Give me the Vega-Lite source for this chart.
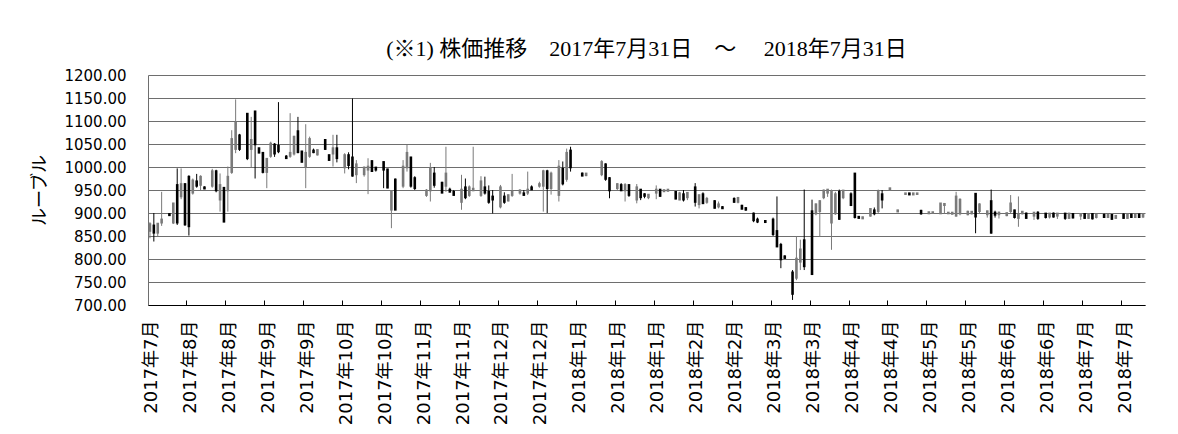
{
  "$schema": "https://vega.github.io/schema/vega-lite/v6.json",
  "autosize": {"type": "none"},
  "padding": {"left": 148, "top": 75, "right": 33, "bottom": 129},
  "width": 997,
  "height": 230,
  "background": "white",
  "title": {"text": "(※1) 株価推移　2017年7月31日　～　 2018年7月31日", "font": "Liberation Serif, Noto Sans CJK JP", "fontSize": 22, "fontWeight": "normal", "color": "#000000", "anchor": "middle", "offset": 7},
  "config": {
    "view": {"stroke": null},
    "axis": {"labelColor": "#000000", "titleColor": "#000000"},
    "axisY": {"grid": true, "gridColor": "#6e6e6e", "gridWidth": 1, "domain": true, "domainColor": "#6e6e6e", "ticks": false, "labelPadding": 22, "labelFont": "DejaVu Sans", "labelFontSize": 15, "titleFont": "Noto Sans CJK JP", "titleFontSize": 18, "titleFontWeight": "normal", "titlePadding": 14}
  },
  "data": {"values": [
{"d":"2017-07-31","o":862,"h":880,"l":845,"c":875},
{"d":"2017-08-01","o":872,"h":900,"l":838,"c":858},
{"d":"2017-08-02","o":858,"h":878,"l":850,"c":876},
{"d":"2017-08-03","o":880,"h":946,"l":872,"c":885},
{"d":"2017-08-04"},
{"d":"2017-08-07","o":897,"h":899,"l":895,"c":896},
{"d":"2017-08-08","o":880,"h":922,"l":876,"c":920},
{"d":"2017-08-09","o":960,"h":997,"l":874,"c":880},
{"d":"2017-08-10","o":937,"h":997,"l":930,"c":962},
{"d":"2017-08-11","o":962,"h":965,"l":872,"c":876},
{"d":"2017-08-14","o":978,"h":982,"l":851,"c":872},
{"d":"2017-08-15","o":945,"h":975,"l":940,"c":970},
{"d":"2017-08-16","o":968,"h":985,"l":955,"c":960},
{"d":"2017-08-17","o":962,"h":982,"l":950,"c":978},
{"d":"2017-08-18","o":955,"h":958,"l":952,"c":954},
{"d":"2017-08-21"},
{"d":"2017-08-22","o":960,"h":996,"l":955,"c":990},
{"d":"2017-08-23","o":990,"h":994,"l":945,"c":950},
{"d":"2017-08-24","o":930,"h":986,"l":903,"c":960},
{"d":"2017-08-25","o":954,"h":956,"l":880,"c":882},
{"d":"2017-08-28","o":950,"h":1001,"l":903,"c":978},
{"d":"2017-08-29","o":990,"h":1080,"l":985,"c":1060},
{"d":"2017-08-30","o":1040,"h":1147,"l":1030,"c":1095},
{"d":"2017-08-31","o":1068,"h":1072,"l":1035,"c":1040},
{"d":"2017-09-01"},
{"d":"2017-09-04","o":1115,"h":1117,"l":1015,"c":1020},
{"d":"2017-09-05","o":1040,"h":1109,"l":1000,"c":1058},
{"d":"2017-09-06","o":1120,"h":1122,"l":975,"c":1050},
{"d":"2017-09-07","o":1040,"h":1042,"l":1030,"c":1032},
{"d":"2017-09-08","o":1030,"h":1032,"l":986,"c":990},
{"d":"2017-09-11","o":990,"h":1019,"l":954,"c":1017},
{"d":"2017-09-12","o":1025,"h":1055,"l":1020,"c":1050},
{"d":"2017-09-13","o":1048,"h":1052,"l":1022,"c":1030},
{"d":"2017-09-14","o":1045,"h":1141,"l":1030,"c":1035},
{"d":"2017-09-15"},
{"d":"2017-09-18","o":1022,"h":1026,"l":1018,"c":1020},
{"d":"2017-09-19","o":1025,"h":1117,"l":1020,"c":1030},
{"d":"2017-09-20","o":1030,"h":1068,"l":1025,"c":1065},
{"d":"2017-09-21","o":1077,"h":1109,"l":1030,"c":1033},
{"d":"2017-09-22","o":1033,"h":1035,"l":1010,"c":1012},
{"d":"2017-09-25","o":1002,"h":1093,"l":954,"c":1030},
{"d":"2017-09-26","o":1025,"h":1066,"l":1020,"c":1060},
{"d":"2017-09-27","o":1035,"h":1040,"l":1030,"c":1033},
{"d":"2017-09-28","o":1028,"h":1038,"l":1025,"c":1036},
{"d":"2017-09-29"},
{"d":"2017-10-02","o":1058,"h":1060,"l":1037,"c":1040},
{"d":"2017-10-03","o":1025,"h":1027,"l":1014,"c":1016},
{"d":"2017-10-04","o":1030,"h":1070,"l":1001,"c":1040},
{"d":"2017-10-05","o":1040,"h":1070,"l":1010,"c":1020},
{"d":"2017-10-06"},
{"d":"2017-10-09","o":1000,"h":1030,"l":986,"c":1025},
{"d":"2017-10-10","o":1025,"h":1032,"l":995,"c":1005},
{"d":"2017-10-11","o":1020,"h":1149,"l":979,"c":982},
{"d":"2017-10-12","o":985,"h":1015,"l":965,"c":1005},
{"d":"2017-10-13"},
{"d":"2017-10-16","o":985,"h":1001,"l":979,"c":998},
{"d":"2017-10-17","o":995,"h":1019,"l":941,"c":1000},
{"d":"2017-10-18","o":1012,"h":1015,"l":990,"c":992},
{"d":"2017-10-19","o":998,"h":1000,"l":990,"c":995},
{"d":"2017-10-20"},
{"d":"2017-10-23","o":1010,"h":1012,"l":954,"c":995},
{"d":"2017-10-24","o":994,"h":996,"l":954,"c":956},
{"d":"2017-10-25","o":908,"h":950,"l":867,"c":947},
{"d":"2017-10-26","o":972,"h":975,"l":907,"c":908},
{"d":"2017-10-27"},
{"d":"2017-10-30","o":960,"h":1015,"l":954,"c":1000},
{"d":"2017-10-31","o":1000,"h":1048,"l":990,"c":1030},
{"d":"2017-11-01","o":1020,"h":1022,"l":955,"c":960},
{"d":"2017-11-02","o":975,"h":980,"l":950,"c":955},
{"d":"2017-11-03"},
{"d":"2017-11-07"},
{"d":"2017-11-08","o":940,"h":952,"l":935,"c":948},
{"d":"2017-11-09","o":950,"h":1009,"l":925,"c":995},
{"d":"2017-11-10","o":985,"h":1000,"l":955,"c":962},
{"d":"2017-11-13"},
{"d":"2017-11-14","o":965,"h":968,"l":943,"c":945},
{"d":"2017-11-15","o":960,"h":1044,"l":946,"c":985},
{"d":"2017-11-16","o":950,"h":955,"l":945,"c":947},
{"d":"2017-11-17","o":945,"h":950,"l":938,"c":940},
{"d":"2017-11-20"},
{"d":"2017-11-21","o":925,"h":983,"l":907,"c":950},
{"d":"2017-11-22","o":955,"h":975,"l":930,"c":935},
{"d":"2017-11-23","o":940,"h":960,"l":935,"c":955},
{"d":"2017-11-24","o":950,"h":1044,"l":948,"c":952},
{"d":"2017-11-27"},
{"d":"2017-11-28","o":940,"h":980,"l":935,"c":968},
{"d":"2017-11-29","o":955,"h":979,"l":940,"c":945},
{"d":"2017-11-30","o":945,"h":960,"l":920,"c":925},
{"d":"2017-12-01","o":935,"h":950,"l":899,"c":930},
{"d":"2017-12-04"},
{"d":"2017-12-05","o":915,"h":961,"l":910,"c":955},
{"d":"2017-12-06","o":935,"h":945,"l":920,"c":925},
{"d":"2017-12-07","o":928,"h":940,"l":925,"c":938},
{"d":"2017-12-08","o":940,"h":985,"l":935,"c":945},
{"d":"2017-12-11"},
{"d":"2017-12-12","o":945,"h":952,"l":940,"c":948},
{"d":"2017-12-13","o":942,"h":950,"l":938,"c":940},
{"d":"2017-12-14","o":945,"h":990,"l":939,"c":950},
{"d":"2017-12-15","o":955,"h":960,"l":950,"c":952},
{"d":"2017-12-18"},
{"d":"2017-12-19","o":960,"h":968,"l":955,"c":962},
{"d":"2017-12-20","o":960,"h":994,"l":903,"c":990},
{"d":"2017-12-21","o":990,"h":994,"l":900,"c":955},
{"d":"2017-12-22","o":955,"h":990,"l":940,"c":985},
{"d":"2017-12-25"},
{"d":"2017-12-26","o":940,"h":1015,"l":925,"c":1000},
{"d":"2017-12-27","o":995,"h":1012,"l":960,"c":965},
{"d":"2017-12-28","o":975,"h":1040,"l":968,"c":1030},
{"d":"2017-12-29","o":1035,"h":1044,"l":990,"c":1000},
{"d":"2018-01-01"},
{"d":"2018-01-02"},
{"d":"2018-01-03","o":985,"h":988,"l":980,"c":982},
{"d":"2018-01-04","o":983,"h":986,"l":980,"c":985},
{"d":"2018-01-05"},
{"d":"2018-01-08"},
{"d":"2018-01-09"},
{"d":"2018-01-10","o":985,"h":1015,"l":980,"c":1010},
{"d":"2018-01-11","o":1005,"h":1008,"l":970,"c":975},
{"d":"2018-01-12","o":975,"h":978,"l":932,"c":950},
{"d":"2018-01-15"},
{"d":"2018-01-16","o":955,"h":965,"l":950,"c":962},
{"d":"2018-01-17","o":960,"h":965,"l":948,"c":950},
{"d":"2018-01-18","o":950,"h":965,"l":925,"c":960},
{"d":"2018-01-19","o":960,"h":962,"l":935,"c":940},
{"d":"2018-01-22"},
{"d":"2018-01-23","o":930,"h":963,"l":921,"c":955},
{"d":"2018-01-24","o":950,"h":952,"l":928,"c":935},
{"d":"2018-01-25","o":940,"h":943,"l":932,"c":938},
{"d":"2018-01-26","o":935,"h":940,"l":930,"c":939},
{"d":"2018-01-29"},
{"d":"2018-01-30","o":945,"h":960,"l":930,"c":950},
{"d":"2018-01-31","o":950,"h":952,"l":935,"c":938},
{"d":"2018-02-01","o":948,"h":950,"l":946,"c":949},
{"d":"2018-02-02","o":949,"h":952,"l":947,"c":950},
{"d":"2018-02-05"},
{"d":"2018-02-06","o":945,"h":947,"l":930,"c":932},
{"d":"2018-02-07","o":930,"h":946,"l":928,"c":942},
{"d":"2018-02-08","o":940,"h":950,"l":925,"c":930},
{"d":"2018-02-09","o":935,"h":944,"l":928,"c":943},
{"d":"2018-02-12"},
{"d":"2018-02-13","o":955,"h":965,"l":914,"c":925},
{"d":"2018-02-14","o":920,"h":940,"l":910,"c":938},
{"d":"2018-02-15","o":940,"h":945,"l":920,"c":922},
{"d":"2018-02-16","o":925,"h":935,"l":920,"c":930},
{"d":"2018-02-19"},
{"d":"2018-02-20","o":925,"h":928,"l":910,"c":912},
{"d":"2018-02-21","o":915,"h":925,"l":910,"c":918},
{"d":"2018-02-22","o":912,"h":915,"l":910,"c":911},
{"d":"2018-02-26"},
{"d":"2018-02-27"},
{"d":"2018-02-28","o":930,"h":934,"l":922,"c":925},
{"d":"2018-03-01","o":925,"h":935,"l":921,"c":932},
{"d":"2018-03-02","o":915,"h":918,"l":908,"c":910},
{"d":"2018-03-05","o":910,"h":912,"l":905,"c":908},
{"d":"2018-03-06"},
{"d":"2018-03-07","o":898,"h":901,"l":880,"c":885},
{"d":"2018-03-09","o":885,"h":890,"l":878,"c":882},
{"d":"2018-03-12"},
{"d":"2018-03-13","o":882,"h":884,"l":880,"c":881},
{"d":"2018-03-14"},
{"d":"2018-03-15","o":885,"h":890,"l":850,"c":855},
{"d":"2018-03-16","o":860,"h":936,"l":826,"c":828},
{"d":"2018-03-19","o":830,"h":835,"l":780,"c":800},
{"d":"2018-03-20","o":805,"h":808,"l":800,"c":803},
{"d":"2018-03-21"},
{"d":"2018-03-22","o":770,"h":776,"l":711,"c":725},
{"d":"2018-03-23","o":760,"h":849,"l":754,"c":800},
{"d":"2018-03-26","o":795,"h":842,"l":776,"c":820},
{"d":"2018-03-27","o":840,"h":951,"l":776,"c":785},
{"d":"2018-03-28"},
{"d":"2018-03-29","o":903,"h":929,"l":765,"c":768},
{"d":"2018-03-30","o":900,"h":921,"l":895,"c":918},
{"d":"2018-04-02","o":905,"h":928,"l":848,"c":925},
{"d":"2018-04-03","o":935,"h":951,"l":930,"c":948},
{"d":"2018-04-04","o":945,"h":952,"l":935,"c":950},
{"d":"2018-04-05","o":880,"h":951,"l":820,"c":945},
{"d":"2018-04-06","o":900,"h":946,"l":896,"c":940},
{"d":"2018-04-09","o":945,"h":951,"l":885,"c":888},
{"d":"2018-04-10","o":935,"h":950,"l":930,"c":948},
{"d":"2018-04-11"},
{"d":"2018-04-12","o":940,"h":945,"l":915,"c":918},
{"d":"2018-04-13","o":985,"h":986,"l":888,"c":892},
{"d":"2018-04-16","o":891,"h":893,"l":888,"c":890},
{"d":"2018-04-17","o":889,"h":892,"l":887,"c":890},
{"d":"2018-04-18"},
{"d":"2018-04-19","o":895,"h":910,"l":892,"c":908},
{"d":"2018-04-20","o":905,"h":912,"l":895,"c":900},
{"d":"2018-04-23","o":905,"h":951,"l":900,"c":945},
{"d":"2018-04-24","o":940,"h":950,"l":910,"c":930},
{"d":"2018-04-25"},
{"d":"2018-04-26","o":952,"h":954,"l":950,"c":953},
{"d":"2018-04-27"},
{"d":"2018-04-30","o":904,"h":907,"l":903,"c":905},
{"d":"2018-05-02"},
{"d":"2018-05-03","o":942,"h":943,"l":941,"c":942},
{"d":"2018-05-04","o":942,"h":943,"l":941,"c":941},
{"d":"2018-05-07","o":941,"h":943,"l":940,"c":942},
{"d":"2018-05-08","o":942,"h":943,"l":941,"c":942},
{"d":"2018-05-10","o":904,"h":907,"l":896,"c":900},
{"d":"2018-05-11"},
{"d":"2018-05-14","o":900,"h":902,"l":899,"c":901},
{"d":"2018-05-15","o":901,"h":902,"l":900,"c":901},
{"d":"2018-05-16"},
{"d":"2018-05-17","o":900,"h":921,"l":899,"c":920},
{"d":"2018-05-18","o":918,"h":921,"l":899,"c":919},
{"d":"2018-05-21","o":900,"h":902,"l":898,"c":900},
{"d":"2018-05-22","o":899,"h":901,"l":897,"c":900},
{"d":"2018-05-23","o":895,"h":946,"l":892,"c":935},
{"d":"2018-05-24","o":900,"h":932,"l":895,"c":928},
{"d":"2018-05-25"},
{"d":"2018-05-28","o":898,"h":905,"l":895,"c":902},
{"d":"2018-05-29","o":900,"h":904,"l":897,"c":902},
{"d":"2018-05-30","o":941,"h":941,"l":856,"c":893},
{"d":"2018-05-31","o":905,"h":921,"l":898,"c":918},
{"d":"2018-06-01"},
{"d":"2018-06-04","o":898,"h":905,"l":890,"c":903},
{"d":"2018-06-05","o":925,"h":951,"l":855,"c":858},
{"d":"2018-06-06","o":900,"h":905,"l":890,"c":897},
{"d":"2018-06-07","o":898,"h":903,"l":888,"c":900},
{"d":"2018-06-08"},
{"d":"2018-06-11","o":896,"h":900,"l":893,"c":899},
{"d":"2018-06-13","o":905,"h":939,"l":900,"c":920},
{"d":"2018-06-14","o":905,"h":907,"l":888,"c":892},
{"d":"2018-06-15","o":890,"h":936,"l":870,"c":897},
{"d":"2018-06-18","o":900,"h":903,"l":897,"c":902},
{"d":"2018-06-19","o":898,"h":901,"l":888,"c":890},
{"d":"2018-06-20"},
{"d":"2018-06-21","o":895,"h":902,"l":885,"c":900},
{"d":"2018-06-22","o":900,"h":904,"l":885,"c":890},
{"d":"2018-06-25"},
{"d":"2018-06-26","o":898,"h":900,"l":888,"c":892},
{"d":"2018-06-27","o":893,"h":900,"l":888,"c":898},
{"d":"2018-06-28","o":898,"h":901,"l":890,"c":893},
{"d":"2018-06-29","o":895,"h":900,"l":887,"c":898},
{"d":"2018-07-02"},
{"d":"2018-07-03","o":898,"h":900,"l":885,"c":890},
{"d":"2018-07-04","o":890,"h":900,"l":887,"c":898},
{"d":"2018-07-05","o":897,"h":900,"l":888,"c":891},
{"d":"2018-07-06"},
{"d":"2018-07-09","o":895,"h":900,"l":885,"c":897},
{"d":"2018-07-10","o":897,"h":900,"l":888,"c":890},
{"d":"2018-07-11","o":890,"h":899,"l":887,"c":897},
{"d":"2018-07-12","o":897,"h":900,"l":886,"c":889},
{"d":"2018-07-13","o":892,"h":898,"l":888,"c":895},
{"d":"2018-07-16"},
{"d":"2018-07-17","o":895,"h":899,"l":890,"c":892},
{"d":"2018-07-18","o":892,"h":897,"l":889,"c":895},
{"d":"2018-07-19","o":895,"h":896,"l":885,"c":888},
{"d":"2018-07-20","o":890,"h":895,"l":888,"c":893},
{"d":"2018-07-23"},
{"d":"2018-07-24","o":896,"h":899,"l":888,"c":890},
{"d":"2018-07-25","o":890,"h":898,"l":888,"c":896},
{"d":"2018-07-26","o":896,"h":898,"l":890,"c":892},
{"d":"2018-07-27","o":892,"h":897,"l":889,"c":895},
{"d":"2018-07-30","o":896,"h":899,"l":890,"c":892},
{"d":"2018-07-31","o":893,"h":898,"l":889,"c":896}
  ]},
  "encoding": {
    "x": {
      "field": "d", "type": "ordinal",
      "scale": {"type": "band", "paddingInner": 0, "paddingOuter": 0},
      "axis": {
        "title": null,
        "values": ["2017-07-31","2017-08-14","2017-08-28","2017-09-11","2017-09-25","2017-10-09","2017-10-23","2017-11-07","2017-11-21","2017-12-05","2017-12-19","2018-01-02","2018-01-16","2018-01-30","2018-02-13","2018-02-28","2018-03-15","2018-03-29","2018-04-12","2018-04-26","2018-05-14","2018-05-28","2018-06-11","2018-06-26","2018-07-10","2018-07-24"],
        "labelExpr": "slice(datum.value,0,4) + '年' + toNumber(slice(datum.value,5,7)) + '月'",
        "labelAngle": -90,
        "bandPosition": 0,
        "labelOffset": 2,
        "grid": false,
        "domainColor": "#000000",
        "tickColor": "#000000",
        "tickSize": -5,
        "labelPadding": 20,
        "labelFont": "DejaVu Sans, Noto Sans CJK JP",
        "labelFontSize": 18
      }
    }
  },
  "layer": [
    {
      "mark": {"type": "point", "opacity": 0},
      "encoding": {}
    },
    {
      "mark": {"type": "rule", "strokeWidth": 1},
      "encoding": {
        "y": {"field": "l", "type": "quantitative", "title": "ルーブル", "scale": {"domain": [700, 1200], "nice": false, "zero": false}, "axis": {"values": [700, 750, 800, 850, 900, 950, 1000, 1050, 1100, 1150, 1200], "format": ".2f"}},
        "y2": {"field": "h"},
        "color": {"condition": {"test": "datum.o > datum.c", "value": "#000000"}, "value": "#7a7a7a"}
      }
    },
    {
      "mark": {"type": "rule", "strokeWidth": 2.6, "strokeCap": "square"},
      "encoding": {
        "y": {"field": "o", "type": "quantitative", "title": "ルーブル", "scale": {"domain": [700, 1200], "nice": false, "zero": false}, "axis": {"values": [700, 750, 800, 850, 900, 950, 1000, 1050, 1100, 1150, 1200], "format": ".2f"}},
        "y2": {"field": "c"},
        "color": {"condition": {"test": "datum.o > datum.c", "value": "#000000"}, "value": "#7a7a7a"}
      }
    }
  ]
}
